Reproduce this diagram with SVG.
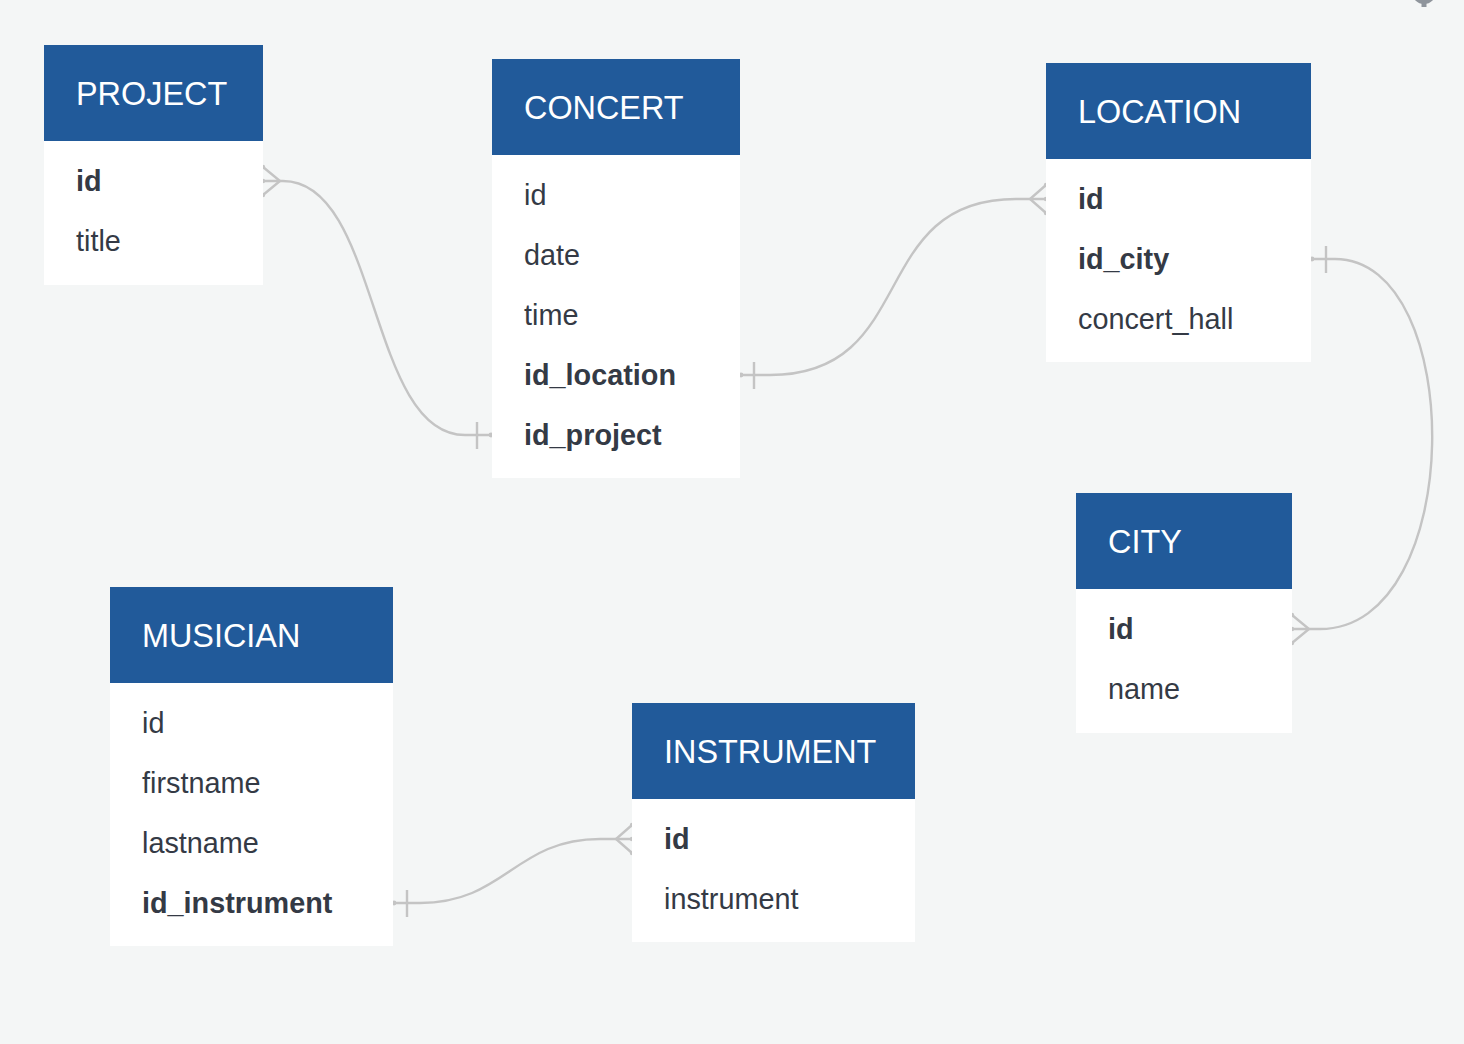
<svg xmlns="http://www.w3.org/2000/svg" width="1464" height="1044" viewBox="0 0 1464 1044">
<style>
.bg{fill:#f4f6f6}
.hd{fill:#215a9a}
.bd{fill:#ffffff}
.ht{font-family:"Liberation Sans",Arial,sans-serif;font-size:32.4px;fill:#ffffff}
.ft{font-family:"Liberation Sans",Arial,sans-serif;font-size:28.8px;fill:#343a45}
.b{font-weight:bold}
.cn{fill:none;stroke:#c4c4c4;stroke-width:2.4}
.dot{fill:#c4c4c4}
</style>
<rect class="bg" x="0" y="0" width="1464" height="1044"/>
<g id="corner-icon" fill="#8f959c">
<circle cx="1424" cy="-8" r="12"/>
<rect x="1421.5" y="0" width="5" height="7"/>
</g>
<g id="connectors">
<!-- PROJECT.id -> CONCERT.id_project -->
<path class="cn" d="M263,181 L283,181 C380,181 368,435 465,435 L492,435"/>
<path class="cn" d="M263,167 L280,181 L263,195"/>
<path class="cn" d="M477,422 L477,449"/>
<circle class="dot" cx="263" cy="167" r="2.2"/><circle class="dot" cx="263" cy="181" r="2.2"/><circle class="dot" cx="263" cy="195" r="2.2"/>
<circle class="dot" cx="491" cy="435" r="2.4"/>
<!-- CONCERT.id_location -> LOCATION.id -->
<path class="cn" d="M740,375 L770,375 C920,375 866,199 1016,199 L1046,199"/>
<path class="cn" d="M1046,185 L1030,199 L1046,213"/>
<path class="cn" d="M754,362 L754,389"/>
<circle class="dot" cx="741" cy="375" r="2.4"/>
<circle class="dot" cx="1046" cy="185" r="2.2"/><circle class="dot" cx="1046" cy="199" r="2.2"/><circle class="dot" cx="1046" cy="213" r="2.2"/>
<!-- LOCATION.id_city -> CITY.id -->
<path class="cn" d="M1311,259 L1335,259 C1467,259 1467,629 1320,629 L1292,629"/>
<path class="cn" d="M1292,615 L1309,629 L1292,643"/>
<path class="cn" d="M1326,246 L1326,273"/>
<circle class="dot" cx="1312" cy="259" r="2.4"/>
<circle class="dot" cx="1292" cy="615" r="2.2"/><circle class="dot" cx="1292" cy="629" r="2.2"/><circle class="dot" cx="1292" cy="643" r="2.2"/>
<!-- MUSICIAN.id_instrument -> INSTRUMENT.id -->
<path class="cn" d="M393,903 L420,903 C505,903 515,839 600,839 L632,839"/>
<path class="cn" d="M632,825 L616,839 L632,853"/>
<path class="cn" d="M407,890 L407,917"/>
<circle class="dot" cx="394" cy="903" r="2.4"/>
<circle class="dot" cx="632" cy="825" r="2.2"/><circle class="dot" cx="632" cy="839" r="2.2"/><circle class="dot" cx="632" cy="853" r="2.2"/>
</g>
<g id="project">
<rect class="bd" x="44" y="141" width="219" height="144"/>
<rect class="hd" x="44" y="45" width="219" height="96"/>
<text class="ht" x="76" y="105">PROJECT</text>
<text class="ft b" x="76" y="191">id</text>
<text class="ft" x="76" y="251">title</text>
</g>
<g id="concert">
<rect class="bd" x="492" y="155" width="248" height="323"/>
<rect class="hd" x="492" y="59" width="248" height="96"/>
<text class="ht" x="524" y="119">CONCERT</text>
<text class="ft" x="524" y="205">id</text>
<text class="ft" x="524" y="265">date</text>
<text class="ft" x="524" y="325">time</text>
<text class="ft b" x="524" y="385">id_location</text>
<text class="ft b" x="524" y="445">id_project</text>
</g>
<g id="location">
<rect class="bd" x="1046" y="159" width="265" height="203"/>
<rect class="hd" x="1046" y="63" width="265" height="96"/>
<text class="ht" x="1078" y="123">LOCATION</text>
<text class="ft b" x="1078" y="209">id</text>
<text class="ft b" x="1078" y="269">id_city</text>
<text class="ft" x="1078" y="329">concert_hall</text>
</g>
<g id="city">
<rect class="bd" x="1076" y="589" width="216" height="144"/>
<rect class="hd" x="1076" y="493" width="216" height="96"/>
<text class="ht" x="1108" y="553">CITY</text>
<text class="ft b" x="1108" y="639">id</text>
<text class="ft" x="1108" y="699">name</text>
</g>
<g id="musician">
<rect class="bd" x="110" y="683" width="283" height="263"/>
<rect class="hd" x="110" y="587" width="283" height="96"/>
<text class="ht" x="142" y="647">MUSICIAN</text>
<text class="ft" x="142" y="733">id</text>
<text class="ft" x="142" y="793">firstname</text>
<text class="ft" x="142" y="853">lastname</text>
<text class="ft b" x="142" y="913">id_instrument</text>
</g>
<g id="instrument">
<rect class="bd" x="632" y="799" width="283" height="143"/>
<rect class="hd" x="632" y="703" width="283" height="96"/>
<text class="ht" x="664" y="763">INSTRUMENT</text>
<text class="ft b" x="664" y="849">id</text>
<text class="ft" x="664" y="909">instrument</text>
</g>
</svg>
